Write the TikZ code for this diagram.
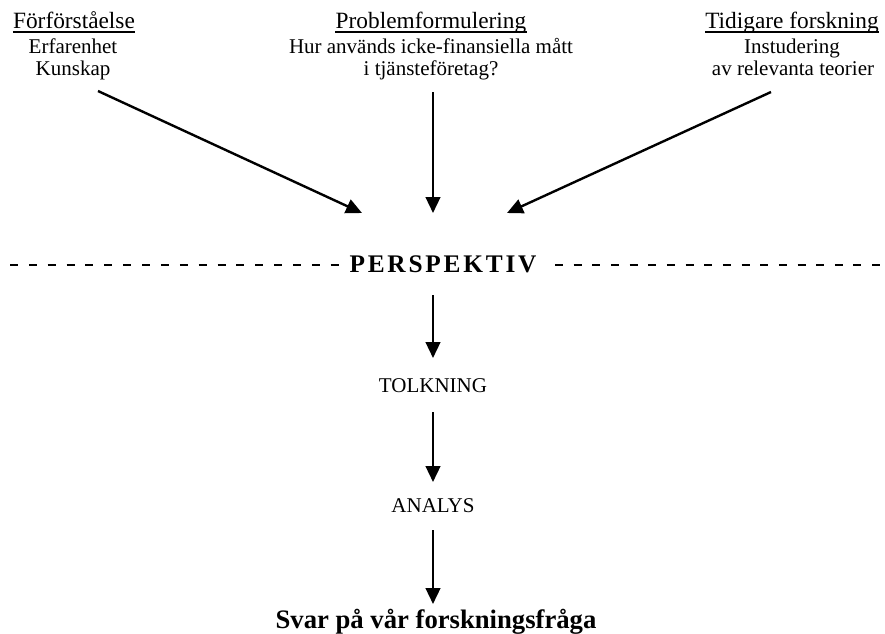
\documentclass[tikz,border=0pt]{standalone}
\usepackage{fontspec}
\setmainfont{Liberation Serif}
\usetikzlibrary{arrows.meta,calc}
\begin{document}
\begin{tikzpicture}[x=0.75pt,y=-0.75pt,
  lbl/.style={anchor=base,inner sep=0pt,font=\fontsize{15.75pt}{18pt}\selectfont},
  ttl/.style={anchor=base,inner sep=0pt,font=\fontsize{17.5pt}{20pt}\selectfont},
  arr/.style={line width=1.8pt,-{Triangle[length=12pt,width=11pt]}},
  uline/.style={line width=1.5pt},
  dashL/.style={line width=1.8pt,dash pattern=on 6pt off 8.15pt},
  dashR/.style={line width=1.8pt,dash pattern=on 6pt off 7.99pt}]
\useasboundingbox (0,0) rectangle (885,633);

% top titles
\node[ttl] (t1) at (74,28) {Förförståelse};
\node[lbl] (t1a) at (73,53) {Erfarenhet};
\node[lbl] (t1b) at (73,75) {Kunskap};
\node[ttl] (t2) at (431,28) {Problemformulering};
\node[lbl] (t2a) at (431,53) {Hur används icke-finansiella mått};
\node[lbl] (t2b) at (431,75) {i tjänsteföretag?};
\node[ttl] (t3) at (792,28) {Tidigare forskning};
\node[lbl] (t3a) at (792,53) {Instudering};
\node[lbl] (t3b) at (793,75) {av relevanta teorier};

\foreach \n in {t1,t2,t3}
  \draw[uline] ($(\n.base west)+(0,4)$) -- ($(\n.base east)+(0,4)$);

% arrow end points
\coordinate (s1) at (98,91);
\coordinate (e1) at (362,213);
\coordinate (s2) at (433,92);
\coordinate (e2) at (433,213);
\coordinate (s3) at (771,92);
\coordinate (e3) at (507,213);
\draw[arr] (s1) -- (e1);
\draw[arr] (s2) -- (e2);
\draw[arr] (s3) -- (e3);

% perspektiv line
\node[anchor=base,inner sep=0pt,font=\fontsize{19pt}{20pt}\selectfont\bfseries\addfontfeature{LetterSpace=11}] (persp) at (443,272) {PERSPEKTIV};
\coordinate (dl1) at (10,265);
\coordinate (dl2) at (339,265);
\coordinate (dr1) at (555,265);
\coordinate (dr2) at (881,265);
\draw[dashL] (dl1) -- (dl2);
\draw[dashR] (dr1) -- (dr2);

% lower chain
\node[lbl] (tolk) at (433,392) {TOLKNING};
\node[lbl] (anal) at (433,512) {ANALYS};
\node[anchor=base,inner sep=0pt,font=\fontsize{20pt}{22pt}\selectfont\bfseries] (svar) at (436,628) {Svar på vår forskningsfråga};
\coordinate (p1) at (433,295);
\coordinate (p2) at (433,358);
\coordinate (p3) at (433,412);
\coordinate (p4) at (433,482);
\coordinate (p5) at (433,530);
\coordinate (p6) at (433,604);
\draw[arr] (p1) -- (p2);
\draw[arr] (p3) -- (p4);
\draw[arr] (p5) -- (p6);
\end{tikzpicture}
\end{document}
